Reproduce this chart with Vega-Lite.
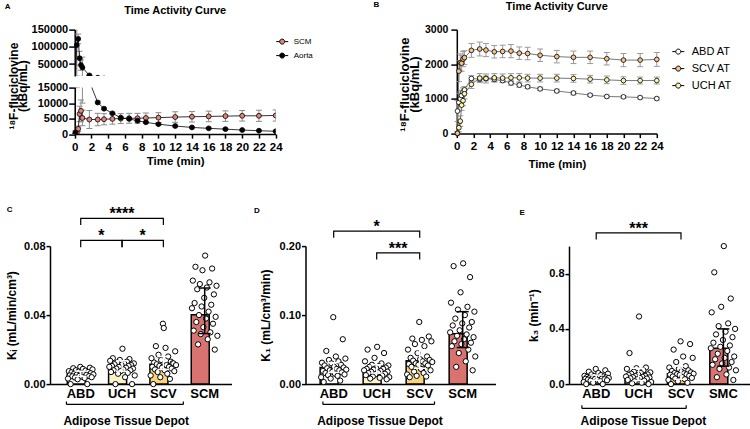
{
"$schema":"https://vega.github.io/schema/vega-lite/v6.json",
"background":"white",
"padding":{"left":4,"top":0.6,"right":0,"bottom":0},
"config":{
 "view":{"stroke":null},
 "font":"Liberation Sans",
 "axis":{"domainColor":"#000000","domainWidth":1.5,"tickColor":"#000000","tickWidth":1.5,"labelColor":"#000000","titleColor":"#000000","labelFont":"Liberation Sans","titleFont":"Liberation Sans","labelFontWeight":"bold","titleFontWeight":"bold","grid":false,"labelFlush":false,"labelOverlap":false,"zindex":1},
 "title":{"font":"Liberation Sans","fontWeight":"bold","color":"#000000"},
 "legend":{"labelFont":"Liberation Sans","labelColor":"#000000","padding":0}
},
"datasets":{
 "tacA":[
  {"s":"SCM","t":0.08,"m":0,"lo":0,"hi":300},{"s":"SCM","t":0.25,"m":500,"lo":100,"hi":900},{"s":"SCM","t":0.42,"m":1700,"lo":800,"hi":2600},{"s":"SCM","t":0.58,"m":6500,"lo":4000,"hi":9000},{"s":"SCM","t":0.75,"m":7500,"lo":4000,"hi":11000},{"s":"SCM","t":0.92,"m":5200,"lo":2700,"hi":7700},{"s":"SCM","t":1.75,"m":4700,"lo":1800,"hi":7600},{"s":"SCM","t":2.75,"m":4700,"lo":2700,"hi":6700},{"s":"SCM","t":3.5,"m":4800,"lo":3000,"hi":6600},{"s":"SCM","t":4.5,"m":4900,"lo":3200,"hi":6600},{"s":"SCM","t":5.5,"m":5000,"lo":3400,"hi":6600},{"s":"SCM","t":6.5,"m":5100,"lo":3500,"hi":6700},{"s":"SCM","t":7.5,"m":5100,"lo":3500,"hi":6700},{"s":"SCM","t":8.5,"m":5200,"lo":3600,"hi":6800},{"s":"SCM","t":10,"m":5300,"lo":3700,"hi":6900},{"s":"SCM","t":12,"m":5500,"lo":3800,"hi":7200},{"s":"SCM","t":14,"m":5600,"lo":3900,"hi":7300},{"s":"SCM","t":16,"m":5700,"lo":4000,"hi":7400},{"s":"SCM","t":18,"m":5800,"lo":4100,"hi":7500},{"s":"SCM","t":20,"m":5900,"lo":4200,"hi":7600},{"s":"SCM","t":22,"m":5900,"lo":4100,"hi":7700},{"s":"SCM","t":24,"m":6000,"lo":4200,"hi":7800},
  {"s":"Aorta","t":0.08,"m":500,"lo":0,"hi":1000},{"s":"Aorta","t":0.25,"m":105000,"lo":15000,"hi":195000},{"s":"Aorta","t":0.42,"m":123000,"lo":109000,"hi":137000},{"s":"Aorta","t":0.58,"m":67000,"lo":47000,"hi":87000},{"s":"Aorta","t":0.75,"m":47000,"lo":32000,"hi":62000},{"s":"Aorta","t":0.92,"m":40000,"lo":10000,"hi":70000},{"s":"Aorta","t":1.75,"m":17000,"lo":15500,"hi":18500},{"s":"Aorta","t":2.75,"m":10200,"lo":9800,"hi":10600},{"s":"Aorta","t":3.5,"m":8200,"lo":7900,"hi":8500},{"s":"Aorta","t":4.5,"m":6700,"lo":6400,"hi":7000},{"s":"Aorta","t":5.5,"m":5300,"lo":5000,"hi":5600},{"s":"Aorta","t":6.5,"m":4900,"lo":4600,"hi":5200},{"s":"Aorta","t":7.5,"m":4300,"lo":4000,"hi":4600},{"s":"Aorta","t":8.5,"m":3800,"lo":3500,"hi":4100},{"s":"Aorta","t":10,"m":3200,"lo":2900,"hi":3500},{"s":"Aorta","t":12,"m":2600,"lo":2300,"hi":2900},{"s":"Aorta","t":14,"m":2150,"lo":1900,"hi":2400},{"s":"Aorta","t":16,"m":1850,"lo":1600,"hi":2100},{"s":"Aorta","t":18,"m":1600,"lo":1400,"hi":1800},{"s":"Aorta","t":20,"m":1300,"lo":1100,"hi":1500},{"s":"Aorta","t":22,"m":1100,"lo":900,"hi":1300},{"s":"Aorta","t":24,"m":900,"lo":700,"hi":1100}
 ],
 "tacB":[
  {"s":"ABD AT","t":0.08,"m":650,"lo":350,"hi":950},{"s":"ABD AT","t":0.25,"m":900,"lo":650,"hi":1150},{"s":"ABD AT","t":0.42,"m":1000,"lo":800,"hi":1200},{"s":"ABD AT","t":0.58,"m":1100,"lo":950,"hi":1250},{"s":"ABD AT","t":0.75,"m":1200,"lo":1080,"hi":1320},{"s":"ABD AT","t":0.92,"m":1260,"lo":1160,"hi":1360},{"s":"ABD AT","t":1.75,"m":1590,"lo":1510,"hi":1670},{"s":"ABD AT","t":2.75,"m":1570,"lo":1500,"hi":1640},{"s":"ABD AT","t":3.5,"m":1590,"lo":1520,"hi":1660},{"s":"ABD AT","t":4.5,"m":1560,"lo":1500,"hi":1620},{"s":"ABD AT","t":5.5,"m":1530,"lo":1470,"hi":1590},{"s":"ABD AT","t":6.5,"m":1460,"lo":1400,"hi":1520},{"s":"ABD AT","t":7.5,"m":1400,"lo":1340,"hi":1460},{"s":"ABD AT","t":8.5,"m":1350,"lo":1300,"hi":1400},{"s":"ABD AT","t":10,"m":1290,"lo":1240,"hi":1340},{"s":"ABD AT","t":12,"m":1230,"lo":1180,"hi":1280},{"s":"ABD AT","t":14,"m":1170,"lo":1120,"hi":1220},{"s":"ABD AT","t":16,"m":1110,"lo":1070,"hi":1150},{"s":"ABD AT","t":18,"m":1070,"lo":1030,"hi":1110},{"s":"ABD AT","t":20,"m":1060,"lo":1020,"hi":1100},{"s":"ABD AT","t":22,"m":1040,"lo":1000,"hi":1080},{"s":"ABD AT","t":24,"m":1010,"lo":970,"hi":1050},
  {"s":"UCH AT","t":0.08,"m":0,"lo":0,"hi":50},{"s":"UCH AT","t":0.25,"m":170,"lo":50,"hi":290},{"s":"UCH AT","t":0.42,"m":360,"lo":210,"hi":510},{"s":"UCH AT","t":0.58,"m":820,"lo":670,"hi":970},{"s":"UCH AT","t":0.75,"m":950,"lo":800,"hi":1100},{"s":"UCH AT","t":0.92,"m":1150,"lo":1000,"hi":1300},{"s":"UCH AT","t":1.75,"m":1420,"lo":1300,"hi":1540},{"s":"UCH AT","t":2.75,"m":1600,"lo":1470,"hi":1730},{"s":"UCH AT","t":3.5,"m":1590,"lo":1460,"hi":1720},{"s":"UCH AT","t":4.5,"m":1610,"lo":1490,"hi":1730},{"s":"UCH AT","t":5.5,"m":1600,"lo":1480,"hi":1720},{"s":"UCH AT","t":6.5,"m":1610,"lo":1490,"hi":1730},{"s":"UCH AT","t":7.5,"m":1610,"lo":1490,"hi":1730},{"s":"UCH AT","t":8.5,"m":1600,"lo":1490,"hi":1710},{"s":"UCH AT","t":10,"m":1600,"lo":1490,"hi":1710},{"s":"UCH AT","t":12,"m":1600,"lo":1490,"hi":1710},{"s":"UCH AT","t":14,"m":1590,"lo":1480,"hi":1700},{"s":"UCH AT","t":16,"m":1570,"lo":1460,"hi":1680},{"s":"UCH AT","t":18,"m":1550,"lo":1440,"hi":1660},{"s":"UCH AT","t":20,"m":1530,"lo":1420,"hi":1640},{"s":"UCH AT","t":22,"m":1530,"lo":1430,"hi":1630},{"s":"UCH AT","t":24,"m":1530,"lo":1430,"hi":1630},
  {"s":"SCV AT","t":0.08,"m":10,"lo":0,"hi":60},{"s":"SCV AT","t":0.25,"m":1800,"lo":1500,"hi":2100},{"s":"SCV AT","t":0.42,"m":2050,"lo":1800,"hi":2300},{"s":"SCV AT","t":0.58,"m":2030,"lo":1800,"hi":2260},{"s":"SCV AT","t":0.75,"m":2150,"lo":1930,"hi":2370},{"s":"SCV AT","t":0.92,"m":2190,"lo":1990,"hi":2390},{"s":"SCV AT","t":1.75,"m":2400,"lo":2200,"hi":2600},{"s":"SCV AT","t":2.75,"m":2440,"lo":2240,"hi":2640},{"s":"SCV AT","t":3.5,"m":2410,"lo":2220,"hi":2600},{"s":"SCV AT","t":4.5,"m":2360,"lo":2180,"hi":2540},{"s":"SCV AT","t":5.5,"m":2370,"lo":2190,"hi":2550},{"s":"SCV AT","t":6.5,"m":2380,"lo":2190,"hi":2570},{"s":"SCV AT","t":7.5,"m":2320,"lo":2140,"hi":2500},{"s":"SCV AT","t":8.5,"m":2310,"lo":2130,"hi":2490},{"s":"SCV AT","t":10,"m":2260,"lo":2080,"hi":2440},{"s":"SCV AT","t":12,"m":2220,"lo":2040,"hi":2400},{"s":"SCV AT","t":14,"m":2200,"lo":2020,"hi":2380},{"s":"SCV AT","t":16,"m":2200,"lo":2020,"hi":2380},{"s":"SCV AT","t":18,"m":2160,"lo":1980,"hi":2340},{"s":"SCV AT","t":20,"m":2120,"lo":1930,"hi":2310},{"s":"SCV AT","t":22,"m":2120,"lo":1930,"hi":2310},{"s":"SCV AT","t":24,"m":2140,"lo":1940,"hi":2340}
 ],
 "sumC":[{"g":"ABD","m":0.006,"lo":0.0045,"hi":0.0075},{"g":"UCH","m":0.0105,"lo":0.0075,"hi":0.0135},{"g":"SCV","m":0.0115,"lo":0.0085,"hi":0.016},{"g":"SCM","m":0.0402,"lo":0.0293,"hi":0.0557}],
 "sumD":[{"g":"ABD","m":0.024,"lo":0.017,"hi":0.031},{"g":"UCH","m":0.022,"lo":0.016,"hi":0.028},{"g":"SCV","m":0.034,"lo":0.023,"hi":0.05},{"g":"SCM","m":0.073,"lo":0.053,"hi":0.105}],
 "sumE":[{"g":"ABD","m":0.045,"lo":0.028,"hi":0.065},{"g":"UCH","m":0.065,"lo":0.025,"hi":0.115},{"g":"SCV","m":0.075,"lo":0.035,"hi":0.13},{"g":"SMC","m":0.26,"lo":0.13,"hi":0.4}],
 "ptsC":[
  {"g":"ABD","v":0.0100,"i":15},{"g":"ABD","v":0.0095,"i":26},{"g":"ABD","v":0.0092,"i":7},{"g":"ABD","v":0.0088,"i":18},{"g":"ABD","v":0.0085,"i":29},{"g":"ABD","v":0.0080,"i":10},{"g":"ABD","v":0.0078,"i":21},{"g":"ABD","v":0.0075,"i":2},{"g":"ABD","v":0.0072,"i":13},{"g":"ABD","v":0.0070,"i":24},{"g":"ABD","v":0.0068,"i":5},{"g":"ABD","v":0.0065,"i":16},{"g":"ABD","v":0.0063,"i":27},{"g":"ABD","v":0.0060,"i":8},{"g":"ABD","v":0.0058,"i":19},{"g":"ABD","v":0.0056,"i":30},{"g":"ABD","v":0.0055,"i":11},{"g":"ABD","v":0.0053,"i":22},{"g":"ABD","v":0.0050,"i":3},{"g":"ABD","v":0.0048,"i":14},{"g":"ABD","v":0.0046,"i":25},{"g":"ABD","v":0.0045,"i":6},{"g":"ABD","v":0.0043,"i":17},{"g":"ABD","v":0.0040,"i":28},{"g":"ABD","v":0.0038,"i":9},{"g":"ABD","v":0.0035,"i":20},{"g":"ABD","v":0.0032,"i":1},{"g":"ABD","v":0.0028,"i":12},{"g":"ABD","v":0.0,"i":23},{"g":"ABD","v":0.0,"i":4},
  {"g":"UCH","v":0.0205,"i":16},{"g":"UCH","v":0.0150,"i":5},{"g":"UCH","v":0.0145,"i":24},{"g":"UCH","v":0.0140,"i":13},{"g":"UCH","v":0.0135,"i":2},{"g":"UCH","v":0.0130,"i":21},{"g":"UCH","v":0.0125,"i":10},{"g":"UCH","v":0.0120,"i":29},{"g":"UCH","v":0.0120,"i":18},{"g":"UCH","v":0.0115,"i":7},{"g":"UCH","v":0.0110,"i":26},{"g":"UCH","v":0.0110,"i":15},{"g":"UCH","v":0.0105,"i":4},{"g":"UCH","v":0.0105,"i":23},{"g":"UCH","v":0.0100,"i":12},{"g":"UCH","v":0.0100,"i":1},{"g":"UCH","v":0.0095,"i":20},{"g":"UCH","v":0.0090,"i":9},{"g":"UCH","v":0.0090,"i":28},{"g":"UCH","v":0.0085,"i":17},{"g":"UCH","v":0.0080,"i":6},{"g":"UCH","v":0.0080,"i":25},{"g":"UCH","v":0.0075,"i":14},{"g":"UCH","v":0.0070,"i":3},{"g":"UCH","v":0.0065,"i":22},{"g":"UCH","v":0.0060,"i":11},{"g":"UCH","v":0.0050,"i":30},{"g":"UCH","v":0.0040,"i":19},{"g":"UCH","v":0.0,"i":8},{"g":"UCH","v":0.0,"i":27},
  {"g":"SCV","v":0.0350,"i":15},{"g":"SCV","v":0.0325,"i":16},{"g":"SCV","v":0.0220,"i":7},{"g":"SCV","v":0.0210,"i":18},{"g":"SCV","v":0.0190,"i":29},{"g":"SCV","v":0.0170,"i":10},{"g":"SCV","v":0.0160,"i":21},{"g":"SCV","v":0.0150,"i":2},{"g":"SCV","v":0.0140,"i":13},{"g":"SCV","v":0.0130,"i":24},{"g":"SCV","v":0.0125,"i":5},{"g":"SCV","v":0.0120,"i":26},{"g":"SCV","v":0.0120,"i":27},{"g":"SCV","v":0.0115,"i":8},{"g":"SCV","v":0.0110,"i":19},{"g":"SCV","v":0.0110,"i":30},{"g":"SCV","v":0.0105,"i":11},{"g":"SCV","v":0.0100,"i":22},{"g":"SCV","v":0.0100,"i":3},{"g":"SCV","v":0.0095,"i":14},{"g":"SCV","v":0.0090,"i":25},{"g":"SCV","v":0.0085,"i":6},{"g":"SCV","v":0.0080,"i":17},{"g":"SCV","v":0.0075,"i":28},{"g":"SCV","v":0.0070,"i":9},{"g":"SCV","v":0.0060,"i":20},{"g":"SCV","v":0.0050,"i":1},{"g":"SCV","v":0.0040,"i":12},{"g":"SCV","v":0.0030,"i":23},{"g":"SCV","v":0.0,"i":4},
  {"g":"SCM","v":0.0745,"i":16},{"g":"SCM","v":0.0680,"i":5},{"g":"SCM","v":0.0670,"i":24},{"g":"SCM","v":0.0660,"i":13},{"g":"SCM","v":0.0600,"i":2},{"g":"SCM","v":0.0590,"i":21},{"g":"SCM","v":0.0580,"i":10},{"g":"SCM","v":0.0570,"i":29},{"g":"SCM","v":0.0560,"i":18},{"g":"SCM","v":0.0550,"i":7},{"g":"SCM","v":0.0520,"i":26},{"g":"SCM","v":0.0500,"i":15},{"g":"SCM","v":0.0470,"i":4},{"g":"SCM","v":0.0460,"i":23},{"g":"SCM","v":0.0450,"i":12},{"g":"SCM","v":0.0440,"i":1},{"g":"SCM","v":0.0420,"i":20},{"g":"SCM","v":0.0400,"i":9},{"g":"SCM","v":0.0390,"i":28},{"g":"SCM","v":0.0380,"i":17},{"g":"SCM","v":0.0360,"i":6},{"g":"SCM","v":0.0350,"i":25},{"g":"SCM","v":0.0330,"i":14},{"g":"SCM","v":0.0310,"i":3},{"g":"SCM","v":0.0300,"i":22},{"g":"SCM","v":0.0290,"i":11},{"g":"SCM","v":0.0280,"i":30},{"g":"SCM","v":0.0260,"i":19},{"g":"SCM","v":0.0230,"i":8},{"g":"SCM","v":0.0200,"i":27}
 ],
 "ptsD":[
  {"g":"ABD","v":0.097,"i":15},{"g":"ABD","v":0.065,"i":26},{"g":"ABD","v":0.048,"i":7},{"g":"ABD","v":0.040,"i":18},{"g":"ABD","v":0.037,"i":29},{"g":"ABD","v":0.035,"i":10},{"g":"ABD","v":0.033,"i":21},{"g":"ABD","v":0.031,"i":2},{"g":"ABD","v":0.030,"i":13},{"g":"ABD","v":0.028,"i":24},{"g":"ABD","v":0.027,"i":5},{"g":"ABD","v":0.025,"i":16},{"g":"ABD","v":0.024,"i":27},{"g":"ABD","v":0.023,"i":8},{"g":"ABD","v":0.022,"i":19},{"g":"ABD","v":0.021,"i":30},{"g":"ABD","v":0.020,"i":11},{"g":"ABD","v":0.020,"i":22},{"g":"ABD","v":0.019,"i":3},{"g":"ABD","v":0.018,"i":14},{"g":"ABD","v":0.017,"i":25},{"g":"ABD","v":0.016,"i":6},{"g":"ABD","v":0.015,"i":17},{"g":"ABD","v":0.014,"i":28},{"g":"ABD","v":0.013,"i":9},{"g":"ABD","v":0.012,"i":20},{"g":"ABD","v":0.010,"i":1},{"g":"ABD","v":0.008,"i":12},{"g":"ABD","v":0.005,"i":23},{"g":"ABD","v":0.003,"i":4},
  {"g":"UCH","v":0.054,"i":16},{"g":"UCH","v":0.050,"i":5},{"g":"UCH","v":0.045,"i":24},{"g":"UCH","v":0.038,"i":13},{"g":"UCH","v":0.033,"i":2},{"g":"UCH","v":0.030,"i":21},{"g":"UCH","v":0.028,"i":10},{"g":"UCH","v":0.027,"i":29},{"g":"UCH","v":0.026,"i":18},{"g":"UCH","v":0.025,"i":7},{"g":"UCH","v":0.024,"i":26},{"g":"UCH","v":0.023,"i":15},{"g":"UCH","v":0.022,"i":4},{"g":"UCH","v":0.022,"i":23},{"g":"UCH","v":0.021,"i":12},{"g":"UCH","v":0.020,"i":1},{"g":"UCH","v":0.019,"i":20},{"g":"UCH","v":0.018,"i":9},{"g":"UCH","v":0.018,"i":28},{"g":"UCH","v":0.017,"i":17},{"g":"UCH","v":0.016,"i":6},{"g":"UCH","v":0.015,"i":25},{"g":"UCH","v":0.014,"i":14},{"g":"UCH","v":0.013,"i":3},{"g":"UCH","v":0.012,"i":22},{"g":"UCH","v":0.011,"i":11},{"g":"UCH","v":0.010,"i":30},{"g":"UCH","v":0.009,"i":19},{"g":"UCH","v":0.008,"i":8},{"g":"UCH","v":0.007,"i":27},
  {"g":"SCV","v":0.090,"i":15},{"g":"SCV","v":0.069,"i":26},{"g":"SCV","v":0.066,"i":7},{"g":"SCV","v":0.064,"i":18},{"g":"SCV","v":0.062,"i":29},{"g":"SCV","v":0.058,"i":10},{"g":"SCV","v":0.055,"i":21},{"g":"SCV","v":0.050,"i":2},{"g":"SCV","v":0.045,"i":13},{"g":"SCV","v":0.040,"i":24},{"g":"SCV","v":0.038,"i":5},{"g":"SCV","v":0.036,"i":16},{"g":"SCV","v":0.035,"i":27},{"g":"SCV","v":0.034,"i":8},{"g":"SCV","v":0.033,"i":19},{"g":"SCV","v":0.032,"i":30},{"g":"SCV","v":0.030,"i":11},{"g":"SCV","v":0.030,"i":22},{"g":"SCV","v":0.029,"i":3},{"g":"SCV","v":0.028,"i":14},{"g":"SCV","v":0.027,"i":25},{"g":"SCV","v":0.025,"i":6},{"g":"SCV","v":0.022,"i":17},{"g":"SCV","v":0.020,"i":28},{"g":"SCV","v":0.018,"i":9},{"g":"SCV","v":0.016,"i":20},{"g":"SCV","v":0.014,"i":1},{"g":"SCV","v":0.012,"i":12},{"g":"SCV","v":0.011,"i":23},{"g":"SCV","v":0.010,"i":4},
  {"g":"SCM","v":0.175,"i":16},{"g":"SCM","v":0.171,"i":5},{"g":"SCM","v":0.155,"i":24},{"g":"SCM","v":0.133,"i":13},{"g":"SCM","v":0.118,"i":2},{"g":"SCM","v":0.112,"i":21},{"g":"SCM","v":0.108,"i":10},{"g":"SCM","v":0.105,"i":29},{"g":"SCM","v":0.100,"i":18},{"g":"SCM","v":0.095,"i":7},{"g":"SCM","v":0.090,"i":26},{"g":"SCM","v":0.088,"i":15},{"g":"SCM","v":0.085,"i":4},{"g":"SCM","v":0.082,"i":23},{"g":"SCM","v":0.078,"i":12},{"g":"SCM","v":0.075,"i":1},{"g":"SCM","v":0.072,"i":20},{"g":"SCM","v":0.070,"i":9},{"g":"SCM","v":0.068,"i":28},{"g":"SCM","v":0.065,"i":17},{"g":"SCM","v":0.062,"i":6},{"g":"SCM","v":0.060,"i":25},{"g":"SCM","v":0.058,"i":14},{"g":"SCM","v":0.055,"i":3},{"g":"SCM","v":0.050,"i":22},{"g":"SCM","v":0.045,"i":11},{"g":"SCM","v":0.040,"i":30},{"g":"SCM","v":0.033,"i":19},{"g":"SCM","v":0.025,"i":8},{"g":"SCM","v":0.020,"i":27}
 ],
 "ptsE":[
  {"g":"ABD","v":0.11,"i":15},{"g":"ABD","v":0.10,"i":26},{"g":"ABD","v":0.09,"i":7},{"g":"ABD","v":0.08,"i":18},{"g":"ABD","v":0.075,"i":29},{"g":"ABD","v":0.07,"i":10},{"g":"ABD","v":0.065,"i":21},{"g":"ABD","v":0.06,"i":2},{"g":"ABD","v":0.058,"i":13},{"g":"ABD","v":0.055,"i":24},{"g":"ABD","v":0.052,"i":5},{"g":"ABD","v":0.05,"i":16},{"g":"ABD","v":0.048,"i":27},{"g":"ABD","v":0.046,"i":8},{"g":"ABD","v":0.045,"i":19},{"g":"ABD","v":0.044,"i":30},{"g":"ABD","v":0.042,"i":11},{"g":"ABD","v":0.04,"i":22},{"g":"ABD","v":0.038,"i":3},{"g":"ABD","v":0.036,"i":14},{"g":"ABD","v":0.035,"i":25},{"g":"ABD","v":0.033,"i":6},{"g":"ABD","v":0.03,"i":17},{"g":"ABD","v":0.028,"i":28},{"g":"ABD","v":0.025,"i":9},{"g":"ABD","v":0.02,"i":20},{"g":"ABD","v":0.015,"i":1},{"g":"ABD","v":0.01,"i":12},{"g":"ABD","v":0.0,"i":23},{"g":"ABD","v":0.0,"i":4},
  {"g":"UCH","v":0.49,"i":16},{"g":"UCH","v":0.225,"i":5},{"g":"UCH","v":0.12,"i":24},{"g":"UCH","v":0.115,"i":13},{"g":"UCH","v":0.11,"i":2},{"g":"UCH","v":0.10,"i":21},{"g":"UCH","v":0.09,"i":10},{"g":"UCH","v":0.085,"i":29},{"g":"UCH","v":0.08,"i":18},{"g":"UCH","v":0.075,"i":7},{"g":"UCH","v":0.07,"i":26},{"g":"UCH","v":0.068,"i":15},{"g":"UCH","v":0.065,"i":4},{"g":"UCH","v":0.06,"i":23},{"g":"UCH","v":0.058,"i":12},{"g":"UCH","v":0.055,"i":1},{"g":"UCH","v":0.052,"i":20},{"g":"UCH","v":0.05,"i":9},{"g":"UCH","v":0.048,"i":28},{"g":"UCH","v":0.045,"i":17},{"g":"UCH","v":0.042,"i":6},{"g":"UCH","v":0.04,"i":25},{"g":"UCH","v":0.035,"i":14},{"g":"UCH","v":0.03,"i":3},{"g":"UCH","v":0.025,"i":22},{"g":"UCH","v":0.02,"i":11},{"g":"UCH","v":0.015,"i":30},{"g":"UCH","v":0.01,"i":19},{"g":"UCH","v":0.005,"i":8},{"g":"UCH","v":0.0,"i":27},
  {"g":"SCV","v":0.31,"i":15},{"g":"SCV","v":0.29,"i":26},{"g":"SCV","v":0.25,"i":7},{"g":"SCV","v":0.2,"i":18},{"g":"SCV","v":0.19,"i":29},{"g":"SCV","v":0.16,"i":10},{"g":"SCV","v":0.13,"i":21},{"g":"SCV","v":0.12,"i":2},{"g":"SCV","v":0.11,"i":13},{"g":"SCV","v":0.1,"i":24},{"g":"SCV","v":0.095,"i":5},{"g":"SCV","v":0.09,"i":16},{"g":"SCV","v":0.085,"i":27},{"g":"SCV","v":0.08,"i":8},{"g":"SCV","v":0.078,"i":19},{"g":"SCV","v":0.075,"i":30},{"g":"SCV","v":0.072,"i":11},{"g":"SCV","v":0.07,"i":22},{"g":"SCV","v":0.068,"i":3},{"g":"SCV","v":0.065,"i":14},{"g":"SCV","v":0.06,"i":25},{"g":"SCV","v":0.055,"i":6},{"g":"SCV","v":0.05,"i":17},{"g":"SCV","v":0.045,"i":28},{"g":"SCV","v":0.04,"i":9},{"g":"SCV","v":0.035,"i":20},{"g":"SCV","v":0.03,"i":1},{"g":"SCV","v":0.02,"i":12},{"g":"SCV","v":0.01,"i":23},{"g":"SCV","v":0.0,"i":4},
  {"g":"SMC","v":1.0,"i":16},{"g":"SMC","v":0.81,"i":5},{"g":"SMC","v":0.62,"i":24},{"g":"SMC","v":0.56,"i":13},{"g":"SMC","v":0.52,"i":2},{"g":"SMC","v":0.44,"i":21},{"g":"SMC","v":0.42,"i":10},{"g":"SMC","v":0.40,"i":29},{"g":"SMC","v":0.38,"i":18},{"g":"SMC","v":0.36,"i":7},{"g":"SMC","v":0.34,"i":26},{"g":"SMC","v":0.32,"i":15},{"g":"SMC","v":0.30,"i":4},{"g":"SMC","v":0.28,"i":23},{"g":"SMC","v":0.27,"i":12},{"g":"SMC","v":0.26,"i":1},{"g":"SMC","v":0.24,"i":20},{"g":"SMC","v":0.22,"i":9},{"g":"SMC","v":0.20,"i":28},{"g":"SMC","v":0.19,"i":17},{"g":"SMC","v":0.18,"i":6},{"g":"SMC","v":0.16,"i":25},{"g":"SMC","v":0.15,"i":14},{"g":"SMC","v":0.14,"i":3},{"g":"SMC","v":0.12,"i":22},{"g":"SMC","v":0.11,"i":11},{"g":"SMC","v":0.10,"i":30},{"g":"SMC","v":0.07,"i":19},{"g":"SMC","v":0.05,"i":8},{"g":"SMC","v":0.03,"i":27}
 ],
 "sigC":[{"b":1,"o":1,"g":"ABD","y":0.0922},{"b":1,"o":2,"g":"ABD","y":0.0961},{"b":1,"o":3,"g":"SCV","y":0.0961},{"b":1,"o":4,"g":"SCV","y":0.0922},{"b":2,"o":1,"g":"ABD","y":0.0794},{"b":2,"o":2,"g":"ABD","y":0.0833},{"b":2,"o":3,"g":"UCH","y":0.0833},{"b":2,"o":4,"g":"UCH","y":0.0794},{"b":3,"o":1,"g":"UCH","y":0.0794},{"b":3,"o":2,"g":"UCH","y":0.0833},{"b":3,"o":3,"g":"SCV","y":0.0833},{"b":3,"o":4,"g":"SCV","y":0.0794}],
 "sigD":[{"b":1,"o":1,"g":"ABD","y":0.212},{"b":1,"o":2,"g":"ABD","y":0.2217},{"b":1,"o":3,"g":"SCV","y":0.2217},{"b":1,"o":4,"g":"SCV","y":0.212},{"b":2,"o":1,"g":"UCH","y":0.1807},{"b":2,"o":2,"g":"UCH","y":0.1903},{"b":2,"o":3,"g":"SCV","y":0.1903},{"b":2,"o":4,"g":"SCV","y":0.1807}],
 "sigE":[{"b":1,"o":1,"g":"ABD","y":1.0486},{"b":1,"o":2,"g":"ABD","y":1.0964},{"b":1,"o":3,"g":"SCV","y":1.0964},{"b":1,"o":4,"g":"SCV","y":1.0486}],
 "txtC1":[{"t":"****","g":"UCH","y":0.0961}],
 "txtC2":[{"t":"*","g":"ABD","y":0.0833},{"t":"*","g":"UCH","y":0.0833}],
 "txtD1":[{"t":"*","g":"UCH","y":0.2217}],
 "txtD2":[{"t":"***","g":"UCH","y":0.1903}],
 "txtE1":[{"t":"***","g":"UCH","y":1.0964}],
 "brC":[{"g1":"ABD","g2":"SCV","y":-0.01177,"y2":-0.0101}],
 "brD":[{"g1":"ABD","g2":"SCV","y":-0.0294,"y2":-0.0251}],
 "brE":[{"g1":"ABD","g2":"SCV","y":-0.176,"y2":-0.154}]
},
"resolve":{"scale":{"fill":"independent","stroke":"independent","xOffset":"independent"},"legend":{"fill":"independent"}},
"spacing":216.5,
"bounds":"flush",
"vconcat":[
 {"hconcat":[
  {"title":{"text":"A","anchor":"start","frame":"group","fontSize":8,"dx":-45.3,"offset":-5.6},
   "bounds":"flush","spacing":11,
   "resolve":{"scale":{"fill":"independent","stroke":"independent","x":"independent","y":"independent"},"legend":{"fill":"independent"}},
   "vconcat":[
    {"width":225.7,"height":46.5,
     "title":{"text":"Time Activity Curve","fontSize":11,"anchor":"middle","offset":7.5,"dx":12.35},
     "data":{"name":"tacA"},
     "encoding":{
      "x":{"field":"t","type":"quantitative","scale":{"domain":[0,24],"nice":false,"range":[24.7,225.7]},"axis":null},
      "y":{"field":"m","type":"quantitative","scale":{"domain":[15000,150000],"nice":false,"zero":false},
           "axis":{"values":[50000,100000,150000],"format":"d","title":["¹⁸F-fluciclovine","(kBq/mL)"],"titleFontSize":12,"titleLineHeight":9.5,"titleBaseline":"alphabetic","titleX":-57.3,"titleY":56,"labelFontSize":11,"tickSize":6,"labelPadding":1,"offset":-24.7}}},
     "layer":[
      {"mark":{"type":"rule","clip":true,"color":"#8c8c8c","strokeWidth":1},"encoding":{"y":{"field":"lo","type":"quantitative"},"y2":{"field":"hi"}}},
      {"mark":{"type":"rule","clip":true,"color":"#8c8c8c","strokeWidth":1,"xOffset":-3,"x2Offset":3},"encoding":{"y":{"field":"hi","type":"quantitative"},"x2":{"field":"t"}}},
      {"mark":{"type":"rule","clip":true,"color":"#8c8c8c","strokeWidth":1,"xOffset":-3,"x2Offset":3},"encoding":{"y":{"field":"lo","type":"quantitative"},"x2":{"field":"t"}}},
      {"mark":{"type":"line","color":"#000000","strokeWidth":0.8,"clip":true},"encoding":{"detail":{"field":"s","type":"nominal"}}},
      {"mark":{"type":"point","shape":"circle","filled":true,"stroke":"#000000","strokeWidth":0.8,"size":24,"opacity":1,"clip":true},
       "encoding":{"fill":{"field":"s","type":"nominal","scale":{"domain":["SCM","Aorta"],"range":["#e4827e","#000000"]},
         "legend":{"title":null,"orient":"none","legendX":225.7,"legendY":5.5,"symbolType":"M-1,0H-0.42M0.42,0H1M-0.42,0A0.42,0.42,0,1,0,0.42,0A0.42,0.42,0,1,0,-0.42,0Z","symbolSize":144,"symbolStrokeColor":"#000000","symbolStrokeWidth":1,"labelFontSize":8,"labelOffset":5,"rowPadding":2}}}}
     ]},
    {"width":225.7,"height":46.5,
     "data":{"name":"tacA"},
     "encoding":{
      "x":{"field":"t","type":"quantitative","scale":{"domain":[0,24],"nice":false,"range":[24.7,225.7]},
           "axis":{"values":[0,2,4,6,8,10,12,14,16,18,20,22,24],"title":"Time (min)","labelFontSize":11.5,"titleFontSize":11.5,"tickSize":4,"labelPadding":3,"titleY":21.2}},
      "y":{"field":"m","type":"quantitative","scale":{"domain":[0,15000],"nice":false},
           "axis":{"values":[0,5000,10000,15000],"format":"d","title":null,"labelFontSize":11,"tickSize":6,"labelPadding":1,"offset":-24.7}}},
     "layer":[
      {"mark":{"type":"rule","clip":true,"color":"#8c8c8c","strokeWidth":1},"encoding":{"y":{"field":"lo","type":"quantitative"},"y2":{"field":"hi"}}},
      {"mark":{"type":"rule","clip":true,"color":"#8c8c8c","strokeWidth":1,"xOffset":-3,"x2Offset":3},"encoding":{"y":{"field":"hi","type":"quantitative"},"x2":{"field":"t"}}},
      {"mark":{"type":"rule","clip":true,"color":"#8c8c8c","strokeWidth":1,"xOffset":-3,"x2Offset":3},"encoding":{"y":{"field":"lo","type":"quantitative"},"x2":{"field":"t"}}},
      {"mark":{"type":"line","color":"#000000","strokeWidth":0.8,"clip":true},"encoding":{"detail":{"field":"s","type":"nominal"}}},
      {"mark":{"type":"point","shape":"circle","filled":true,"stroke":"#000000","strokeWidth":0.8,"size":24,"opacity":1,"clip":true},
       "encoding":{"fill":{"field":"s","type":"nominal","scale":{"domain":["SCM","Aorta"],"range":["#e4827e","#000000"]},"legend":null}}}
     ]}
   ]},
  {"title":{"text":"B","anchor":"start","frame":"group","fontSize":8,"dx":-83.3,"offset":-8.1},
   "bounds":"flush",
   "vconcat":[
    {"width":200,"height":104,
     "title":{"text":"Time Activity Curve","fontSize":11,"anchor":"middle","offset":12.5},
     "data":{"name":"tacB"},
     "encoding":{
      "x":{"field":"t","type":"quantitative","scale":{"domain":[0,24],"nice":false},
           "axis":{"values":[0,2,4,6,8,10,12,14,16,18,20,22,24],"title":"Time (min)","labelFontSize":11.5,"titleFontSize":11.5,"tickSize":4,"labelPadding":3,"titleY":25.4}},
      "y":{"field":"m","type":"quantitative","scale":{"domain":[0,3000],"nice":false},
           "axis":{"values":[0,1000,2000,3000],"format":"d","title":["¹⁸F-fluciclovine","(kBq/mL)"],"titleFontSize":13,"titleLineHeight":10,"titleBaseline":"alphabetic","titleX":-48,"titleY":54.5,"labelFontSize":10.5,"tickSize":6,"labelPadding":3}}},
     "layer":[
      {"mark":{"type":"rule","color":"#9a9a9a","strokeWidth":1},"encoding":{"y":{"field":"lo","type":"quantitative"},"y2":{"field":"hi"}}},
      {"mark":{"type":"rule","color":"#9a9a9a","strokeWidth":1,"xOffset":-3,"x2Offset":3},"encoding":{"y":{"field":"hi","type":"quantitative"},"x2":{"field":"t"}}},
      {"mark":{"type":"rule","color":"#9a9a9a","strokeWidth":1,"xOffset":-3,"x2Offset":3},"encoding":{"y":{"field":"lo","type":"quantitative"},"x2":{"field":"t"}}},
      {"mark":{"type":"line","color":"#555555","strokeWidth":0.8},"encoding":{"detail":{"field":"s","type":"nominal"}}},
      {"mark":{"type":"point","shape":"circle","filled":true,"stroke":"#000000","strokeWidth":0.8,"size":22,"opacity":1},
       "encoding":{"fill":{"field":"s","type":"nominal","scale":{"domain":["ABD AT","SCV AT","UCH AT"],"range":["#ffffff","#f5c28a","#fdf2ae"]},
         "legend":{"title":null,"orient":"none","legendX":215,"legendY":15.5,"symbolType":"M-1,0H-0.42M0.42,0H1M-0.42,0A0.42,0.42,0,1,0,0.42,0A0.42,0.42,0,1,0,-0.42,0Z","symbolSize":144,"symbolStrokeColor":"#000000","symbolStrokeWidth":1,"labelFontSize":11,"labelOffset":7,"rowPadding":5}}}}
     ]}
   ]}
 ],"spacing":406.8,"bounds":"flush",
  "resolve":{"scale":{"fill":"independent","stroke":"independent"},"legend":{"fill":"independent"}}},
 {"hconcat":[
  {"width":181.5,"height":138,
   "title":{"text":"C","anchor":"start","frame":"group","fontSize":8,"dx":-43.3,"offset":-8},
   "layer":[
    {"data":{"name":"sumC"},"mark":{"type":"bar","stroke":"#000000","strokeWidth":1.5,"width":{"band":0.65}},
     "encoding":{
      "x":{"field":"g","type":"nominal","scale":{"domain":["ABD","UCH","SCV","SCM"],"paddingInner":0,"paddingOuter":0.196,"align":0.62},
           "axis":{"title":"Adipose Tissue Depot","labelFontSize":13,"labelAngle":0,"ticks":false,"labelPadding":3.5,"titleFontSize":12,"titleX":75.7,"titleY":31}},
      "y":{"field":"m","type":"quantitative","scale":{"domain":[0,0.08],"nice":false},
           "axis":{"title":"Kᵢ (mL/min/cm³)","values":[0,0.02,0.04,0.06,0.08],"format":".2f","labelFontSize":11,"titleFontSize":12,"tickSize":4,"labelPadding":1,"titleBaseline":"bottom","titleX":-31.5}},
      "fill":{"field":"g","type":"nominal","scale":{"domain":["ABD","UCH","SCV","SCM"],"range":["#ffffff","#fdf5c9","#fcd27b","#d9736f"]},"legend":null}}},
    {"data":{"name":"ptsC"},"mark":{"type":"point","shape":"circle","filled":true,"fill":"#ffffff","stroke":"#000000","strokeWidth":1,"size":28,"opacity":1},
     "encoding":{"x":{"field":"g","type":"nominal"},"xOffset":{"field":"i","type":"nominal","scale":{"type":"point","range":[7.5,33.8]}},"y":{"field":"v","type":"quantitative"}}},
    {"data":{"name":"sumC"},"mark":{"type":"rule","strokeWidth":1.5},
     "encoding":{"x":{"field":"g","type":"nominal"},"y":{"field":"lo","type":"quantitative"},"y2":{"field":"hi"},"stroke":{"field":"g","type":"nominal","scale":{"domain":["ABD","UCH","SCV","SCM"],"range":["#ffffff","#ffffff","#ffffff","#000000"]},"legend":null}}},
    {"data":{"name":"sumC"},"mark":{"type":"rule","strokeWidth":1.5,"xOffset":-6,"x2Offset":6},
     "encoding":{"x":{"field":"g","type":"nominal"},"x2":{"field":"g"},"y":{"field":"hi","type":"quantitative"},"stroke":{"field":"g","type":"nominal","legend":null}}},
    {"data":{"name":"sumC"},"mark":{"type":"rule","strokeWidth":1.5,"xOffset":-6,"x2Offset":6},
     "encoding":{"x":{"field":"g","type":"nominal"},"x2":{"field":"g"},"y":{"field":"lo","type":"quantitative"},"stroke":{"field":"g","type":"nominal","legend":null}}},
    {"data":{"name":"sigC"},"mark":{"type":"line","color":"#000000","strokeWidth":1.2},
     "encoding":{"x":{"field":"g","type":"nominal"},"y":{"field":"y","type":"quantitative"},"detail":{"field":"b","type":"nominal"},"order":{"field":"o","type":"quantitative"}}},
    {"data":{"name":"txtC1"},"mark":{"type":"text","fontSize":16,"fontWeight":"bold","baseline":"alphabetic","dy":1,"color":"#000000"},
     "encoding":{"x":{"field":"g","type":"nominal"},"y":{"field":"y","type":"quantitative"},"text":{"field":"t"}}},
    {"data":{"name":"txtC2"},"mark":{"type":"text","fontSize":16,"fontWeight":"bold","baseline":"alphabetic","dy":1,"color":"#000000"},
     "encoding":{"x":{"field":"g","type":"nominal","bandPosition":1},"y":{"field":"y","type":"quantitative"},"text":{"field":"t"}}},
    {"data":{"name":"brC"},"mark":{"type":"rule","color":"#000000","strokeWidth":1.2,"xOffset":-14.3,"x2Offset":20},
     "encoding":{"x":{"field":"g1","type":"nominal"},"x2":{"field":"g2"},"y":{"field":"y","type":"quantitative"}}},
    {"data":{"name":"brC"},"mark":{"type":"rule","color":"#000000","strokeWidth":1.2,"xOffset":-14.3},
     "encoding":{"x":{"field":"g1","type":"nominal"},"y":{"field":"y","type":"quantitative"},"y2":{"field":"y2"}}},
    {"data":{"name":"brC"},"mark":{"type":"rule","color":"#000000","strokeWidth":1.2,"xOffset":20},
     "encoding":{"x":{"field":"g2","type":"nominal"},"y":{"field":"y","type":"quantitative"},"y2":{"field":"y2"}}}
   ]},
  {"width":190,"height":138,
   "title":{"text":"D","anchor":"start","frame":"group","fontSize":8,"dx":-51.6,"offset":4},
   "layer":[
    {"data":{"name":"sumD"},"mark":{"type":"bar","stroke":"#000000","strokeWidth":1.5,"width":{"band":0.63}},
     "encoding":{
      "x":{"field":"g","type":"nominal","scale":{"domain":["ABD","UCH","SCV","SCM"],"paddingInner":0,"paddingOuter":0.209,"align":0.372},
           "axis":{"title":"Adipose Tissue Depot","labelFontSize":13,"labelAngle":0,"ticks":false,"labelPadding":3.5,"titleFontSize":12,"titleX":74,"titleY":31}},
      "y":{"field":"m","type":"quantitative","scale":{"domain":[0,0.2],"nice":false},
           "axis":{"title":"K₁ (mL/cm³/min)","values":[0,0.05,0.1,0.15,0.2],"format":".2f","labelFontSize":11,"titleFontSize":12,"tickSize":4,"labelPadding":1,"titleBaseline":"bottom","titleX":-33.5}},
      "fill":{"field":"g","type":"nominal","scale":{"domain":["ABD","UCH","SCV","SCM"],"range":["#ffffff","#fdf5c9","#fcd27b","#d9736f"]},"legend":null}}},
    {"data":{"name":"ptsD"},"mark":{"type":"point","shape":"circle","filled":true,"fill":"#ffffff","stroke":"#000000","strokeWidth":1,"size":28,"opacity":1},
     "encoding":{"x":{"field":"g","type":"nominal"},"xOffset":{"field":"i","type":"nominal","scale":{"type":"point","range":[8.5,34.5]}},"y":{"field":"v","type":"quantitative"}}},
    {"data":{"name":"sumD"},"mark":{"type":"rule","strokeWidth":1.5},
     "encoding":{"x":{"field":"g","type":"nominal"},"y":{"field":"lo","type":"quantitative"},"y2":{"field":"hi"},"stroke":{"field":"g","type":"nominal","scale":{"domain":["ABD","UCH","SCV","SCM"],"range":["#ffffff","#ffffff","#ffffff","#000000"]},"legend":null}}},
    {"data":{"name":"sumD"},"mark":{"type":"rule","strokeWidth":1.5,"xOffset":-6,"x2Offset":6},
     "encoding":{"x":{"field":"g","type":"nominal"},"x2":{"field":"g"},"y":{"field":"hi","type":"quantitative"},"stroke":{"field":"g","type":"nominal","legend":null}}},
    {"data":{"name":"sumD"},"mark":{"type":"rule","strokeWidth":1.5,"xOffset":-6,"x2Offset":6},
     "encoding":{"x":{"field":"g","type":"nominal"},"x2":{"field":"g"},"y":{"field":"lo","type":"quantitative"},"stroke":{"field":"g","type":"nominal","legend":null}}},
    {"data":{"name":"sigD"},"mark":{"type":"line","color":"#000000","strokeWidth":1.2},
     "encoding":{"x":{"field":"g","type":"nominal"},"y":{"field":"y","type":"quantitative"},"detail":{"field":"b","type":"nominal"},"order":{"field":"o","type":"quantitative"}}},
    {"data":{"name":"txtD1"},"mark":{"type":"text","fontSize":16,"fontWeight":"bold","baseline":"alphabetic","dy":1,"color":"#000000"},
     "encoding":{"x":{"field":"g","type":"nominal"},"y":{"field":"y","type":"quantitative"},"text":{"field":"t"}}},
    {"data":{"name":"txtD2"},"mark":{"type":"text","fontSize":16,"fontWeight":"bold","baseline":"alphabetic","dy":1,"color":"#000000"},
     "encoding":{"x":{"field":"g","type":"nominal","bandPosition":1},"y":{"field":"y","type":"quantitative"},"text":{"field":"t"}}},
    {"data":{"name":"brD"},"mark":{"type":"rule","color":"#000000","strokeWidth":1.2,"xOffset":-10.8,"x2Offset":14.8},
     "encoding":{"x":{"field":"g1","type":"nominal"},"x2":{"field":"g2"},"y":{"field":"y","type":"quantitative"}}},
    {"data":{"name":"brD"},"mark":{"type":"rule","color":"#000000","strokeWidth":1.2,"xOffset":-10.8},
     "encoding":{"x":{"field":"g1","type":"nominal"},"y":{"field":"y","type":"quantitative"},"y2":{"field":"y2"}}},
    {"data":{"name":"brD"},"mark":{"type":"rule","color":"#000000","strokeWidth":1.2,"xOffset":14.8},
     "encoding":{"x":{"field":"g2","type":"nominal"},"y":{"field":"y","type":"quantitative"},"y2":{"field":"y2"}}}
   ]},
  {"width":182.2,"height":138,
   "title":{"text":"E","anchor":"start","frame":"group","fontSize":8,"dx":-49.5,"offset":4},
   "layer":[
    {"data":{"name":"sumE"},"mark":{"type":"bar","stroke":"#000000","strokeWidth":1.5,"width":{"band":0.64}},
     "encoding":{
      "x":{"field":"g","type":"nominal","scale":{"domain":["ABD","UCH","SCV","SMC"],"paddingInner":0,"paddingOuter":0.149,"align":0.476},
           "axis":{"title":"Adipose Tissue Depot","labelFontSize":13,"labelAngle":0,"ticks":false,"labelPadding":3.5,"titleFontSize":12,"titleX":73.9,"titleY":31}},
      "y":{"field":"m","type":"quantitative","scale":{"domain":[0,1],"nice":false},
           "axis":{"title":"k₃ (min⁻¹)","values":[0,0.2,0.4,0.6,0.8,1.0],"format":".1f","labelFontSize":11,"titleFontSize":12,"tickSize":4,"labelPadding":1,"titleBaseline":"bottom","titleX":-28}},
      "fill":{"field":"g","type":"nominal","scale":{"domain":["ABD","UCH","SCV","SMC"],"range":["#ffffff","#fdf5c9","#fcd27b","#d9736f"]},"legend":null}}},
    {"data":{"name":"ptsE"},"mark":{"type":"point","shape":"circle","filled":true,"fill":"#ffffff","stroke":"#000000","strokeWidth":1,"size":28,"opacity":1},
     "encoding":{"x":{"field":"g","type":"nominal"},"xOffset":{"field":"i","type":"nominal","scale":{"type":"point","range":[8.2,34.2]}},"y":{"field":"v","type":"quantitative"}}},
    {"data":{"name":"sumE"},"mark":{"type":"rule","strokeWidth":1.5},
     "encoding":{"x":{"field":"g","type":"nominal"},"y":{"field":"lo","type":"quantitative"},"y2":{"field":"hi"},"stroke":{"field":"g","type":"nominal","scale":{"domain":["ABD","UCH","SCV","SMC"],"range":["#ffffff","#ffffff","#ffffff","#000000"]},"legend":null}}},
    {"data":{"name":"sumE"},"mark":{"type":"rule","strokeWidth":1.5,"xOffset":-6,"x2Offset":6},
     "encoding":{"x":{"field":"g","type":"nominal"},"x2":{"field":"g"},"y":{"field":"hi","type":"quantitative"},"stroke":{"field":"g","type":"nominal","legend":null}}},
    {"data":{"name":"sumE"},"mark":{"type":"rule","strokeWidth":1.5,"xOffset":-6,"x2Offset":6},
     "encoding":{"x":{"field":"g","type":"nominal"},"x2":{"field":"g"},"y":{"field":"lo","type":"quantitative"},"stroke":{"field":"g","type":"nominal","legend":null}}},
    {"data":{"name":"sigE"},"mark":{"type":"line","color":"#000000","strokeWidth":1.2},
     "encoding":{"x":{"field":"g","type":"nominal"},"y":{"field":"y","type":"quantitative"},"detail":{"field":"b","type":"nominal"},"order":{"field":"o","type":"quantitative"}}},
    {"data":{"name":"txtE1"},"mark":{"type":"text","fontSize":16,"fontWeight":"bold","baseline":"alphabetic","dy":1,"color":"#000000"},
     "encoding":{"x":{"field":"g","type":"nominal"},"y":{"field":"y","type":"quantitative"},"text":{"field":"t"}}},
    {"data":{"name":"brE"},"mark":{"type":"rule","color":"#000000","strokeWidth":1.2,"xOffset":-14.3,"x2Offset":5.2},
     "encoding":{"x":{"field":"g1","type":"nominal"},"x2":{"field":"g2"},"y":{"field":"y","type":"quantitative"}}},
    {"data":{"name":"brE"},"mark":{"type":"rule","color":"#000000","strokeWidth":1.2,"xOffset":-14.3},
     "encoding":{"x":{"field":"g1","type":"nominal"},"y":{"field":"y","type":"quantitative"},"y2":{"field":"y2"}}},
    {"data":{"name":"brE"},"mark":{"type":"rule","color":"#000000","strokeWidth":1.2,"xOffset":5.2},
     "encoding":{"x":{"field":"g2","type":"nominal"},"y":{"field":"y","type":"quantitative"},"y2":{"field":"y2"}}}
   ]}
 ],"spacing":73.5,"bounds":"flush",
  "resolve":{"scale":{"fill":"independent","stroke":"independent","xOffset":"independent"},"legend":{"fill":"independent"}}}
]
}
